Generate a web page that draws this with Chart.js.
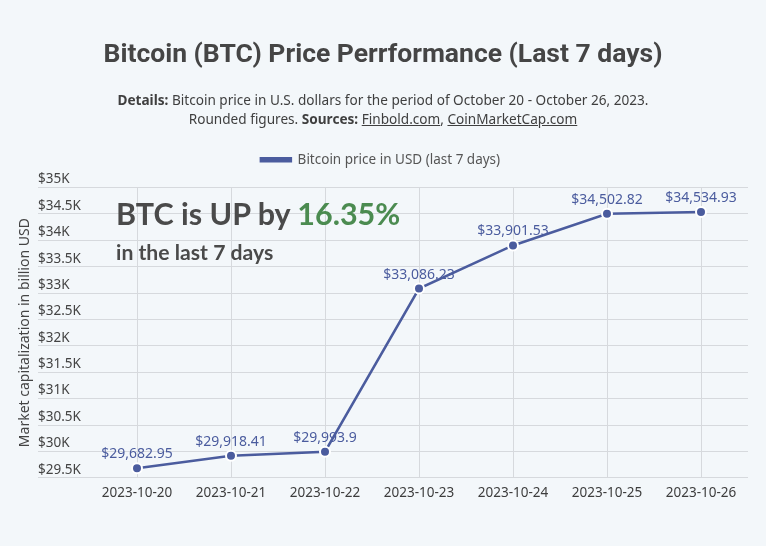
<!DOCTYPE html>
<html>
<head>
<meta charset="utf-8">
<script src="https://cdn.jsdelivr.net/npm/chart.js@4.4.0/dist/chart.umd.min.js"></script>
<style>
  body { margin: 0; background: #f3f7fa; }
  .wrap { position: relative; width: 766px; height: 546px; font-family: 'Noto Sans', sans-serif; color: #454545; }
  #chart { position: absolute; left: 0; top: 0; }
  .title { position: absolute; left: 0; top: 37px; width: 766px; text-align: center; font-family: Roboto, sans-serif; font-weight: 700; font-size: 26.5px; line-height: 32px; color: #454545; }
  .details { position: absolute; left: 0; top: 90px; width: 766px; text-align: center; font-size: 13.6px; line-height: 19px; color: #3f3f3f; }
  .details b { font-weight: 700; }
  .details a { color: #3f3f3f; text-decoration: underline; }
  .callout { position: absolute; left: 116px; top: 195px; font-family: Lato, sans-serif; font-weight: 700; color: #4a4a4a; }
  .callout .big { font-size: 30.5px; line-height: 36px; }
  .callout .big span { color: #4b8b50; }
  .callout .small { font-size: 21.2px; line-height: 26px; margin-top: 8px; }
</style>
</head>
<body>
<div class="wrap">
  <canvas id="chart" width="766" height="546"></canvas>
  <div class="title">Bitcoin (BTC) Price Perrformance (Last 7 days)</div>
  <div class="details">
    <b>Details:</b> Bitcoin price in U.S. dollars for the period of October 20 - October 26, 2023.<br>
    Rounded figures. <b>Sources:</b> <a>Finbold.com</a>, <a>CoinMarketCap.com</a>
  </div>
  <div class="callout">
    <div class="big">BTC is UP by <span>16.35%</span></div>
    <div class="small">in the last 7 days</div>
  </div>
</div>
<script>
const dates = ['2023-10-20', '2023-10-21', '2023-10-22', '2023-10-23', '2023-10-24', '2023-10-25', '2023-10-26'];
const prices = [29682.95, 29918.41, 29993.9, 33086.23, 33901.53, 34502.82, 34534.93];
const seriesName = 'Bitcoin price in USD (last 7 days)';
const yTitle = 'Market capitalization in billion USD';

const lineColor = '#4b5c9e';
const gridColor = '#d6d9dd';
const textColor = '#444444';

function formatUsd(v) {
  return '$' + v.toLocaleString('en-US', { maximumFractionDigits: 2 });
}

// value labels above each point
const pointLabels = {
  id: 'pointLabels',
  afterDatasetsDraw(chart) {
    const ctx = chart.ctx;
    const meta = chart.getDatasetMeta(0);
    ctx.save();
    ctx.font = '14px "Noto Sans"';
    ctx.fillStyle = lineColor;
    ctx.textAlign = 'center';
    ctx.textBaseline = 'alphabetic';
    meta.data.forEach((pt, i) => {
      ctx.fillText(formatUsd(prices[i]), pt.x, pt.y - 10);
    });
    ctx.restore();
  }
};

// a bit more room under the legend
const legendGap = {
  id: 'legendGap',
  beforeInit(chart) {
    const fit = chart.legend.fit;
    chart.legend.fit = function() {
      fit.bind(chart.legend)();
      this.height += 11;
    };
  }
};

const ctx = document.getElementById('chart').getContext('2d');

let priceChart = new Chart(ctx, {
  type: 'line',
  data: {
    labels: dates,
    datasets: [{
      label: seriesName,
      data: prices,
      borderColor: lineColor,
      backgroundColor: lineColor,
      borderWidth: 2.5,
      pointRadius: 5,
      pointBorderWidth: 2,
      pointBorderColor: '#ffffff',
      pointBackgroundColor: lineColor,
      tension: 0
    }]
  },
  options: {
    responsive: false,
    animation: false,
    layout: {
      padding: { left: 13, right: 18, top: 143, bottom: 38 }
    },
    plugins: {
      legend: {
        labels: {
          boxWidth: 30,
          boxHeight: 3,
          color: '#555555',
          font: { family: 'Noto Sans', size: 13.5 }
        }
      },
      tooltip: { enabled: false }
    },
    scales: {
      x: {
        offset: true,
        grid: { color: gridColor, drawTicks: false },
        border: { display: false },
        ticks: {
          color: '#3d3d3d',
          padding: 7,
          font: { family: 'Noto Sans', size: 13.5 }
        }
      },
      y: {
        min: 29500,
        max: 35000,
        grid: { color: gridColor, tickLength: 52, tickColor: gridColor },
        border: { display: false },
        afterFit(scale) {
          scale.width = 77;
        },
        ticks: {
          stepSize: 500,
          mirror: true,
          padding: -52,
          labelOffset: -8,
          color: textColor,
          font: { family: 'Noto Sans', size: 13.5 },
          callback: (v) => '$' + (v / 1000) + 'K'
        },
        title: {
          display: true,
          text: yTitle,
          color: textColor,
          font: { family: 'Noto Sans', size: 14 }
        }
      }
    }
  },
  plugins: [pointLabels, legendGap]
});
</script>
</body>
</html>
